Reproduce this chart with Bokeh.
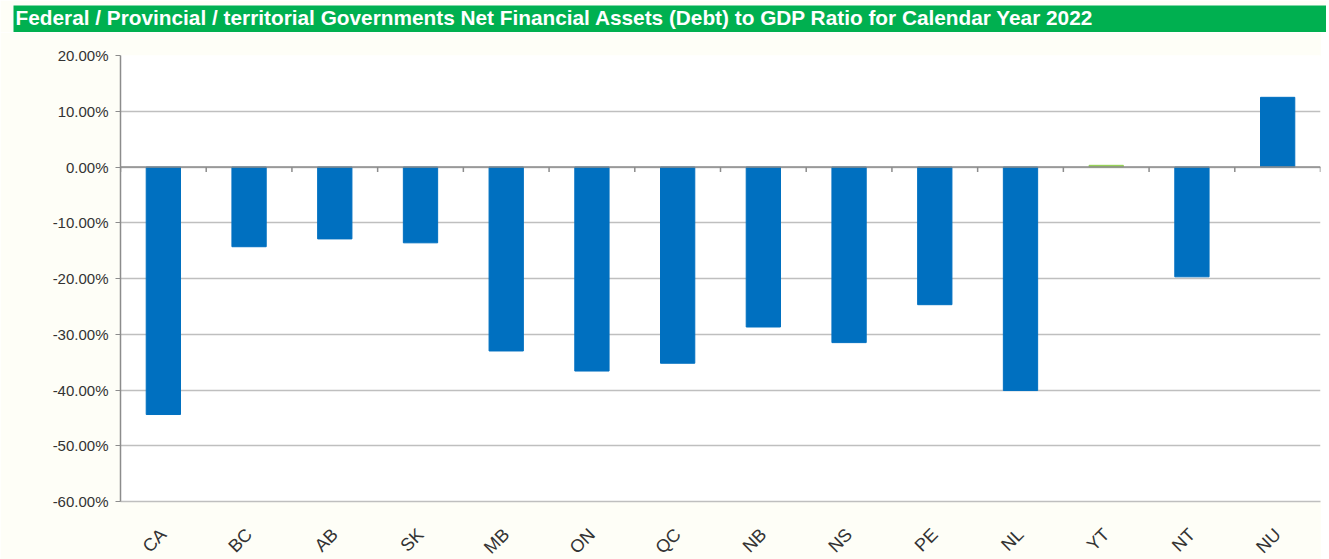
from bokeh.plotting import figure
from bokeh.models import Range1d, FixedTicker, PrintfTickFormatter, ColumnDataSource, Label
from bokeh.embed import file_html
from bokeh.resources import INLINE
import math

title_text = "Federal / Provincial / territorial Governments Net Financial Assets (Debt) to GDP Ratio for Calendar Year 2022"
regions = ["CA", "BC", "AB", "SK", "MB", "ON", "QC", "NB", "NS", "PE", "NL", "YT", "NT", "NU"]
ratio_pct = [-44.4, -14.3, -12.9, -13.6, -33.0, -36.6, -35.2, -28.7, -31.5, -24.7, -40.1, 0.3, -19.7, 12.5]
bar_colors = ["#0070C0"] * 11 + ["#92D050"] + ["#0070C0"] * 2
y_ticks = [-60, -50, -40, -30, -20, -10, 0, 10, 20]

FONT = "Liberation Sans"
CREAM = "#FEFEF7"

# Banner
banner = figure(width=1326, height=32, x_range=(0, 1), y_range=(0, 1),
                output_backend="svg", toolbar_location=None,
                min_border_left=13, min_border_right=0,
                min_border_top=5, min_border_bottom=0)
banner.background_fill_color = "#00B050"
banner.border_fill_color = CREAM
banner.outline_line_color = None
banner.xaxis.visible = False
banner.yaxis.visible = False
banner.grid.visible = False
banner.add_layout(Label(x=2, y=15, x_units="screen", y_units="screen", text=title_text,
                        text_color="white", text_font=FONT, text_font_style="bold",
                        text_font_size="20.8px", text_baseline="middle", text_align="left"))

n = len(regions)
idx = list(range(n))
src = ColumnDataSource(dict(x=idx, top=ratio_pct, color=bar_colors))

p = figure(frame_width=1200, frame_height=446, x_range=Range1d(-0.5, n - 0.5),
           y_range=Range1d(y_ticks[0], y_ticks[-1]),
           output_backend="svg", toolbar_location=None,
           min_border_left=120, min_border_right=1, min_border_top=23, min_border_bottom=10)
p.background_fill_color = "white"
p.border_fill_color = CREAM
p.outline_line_color = None

p.vbar(x="x", top="top", bottom=0, width=0.4, color="color", source=src)

# zero axis line with tick marks between categories
bounds = [i - 0.5 for i in range(n + 1)]
p.segment(x0=[-0.5], x1=[n - 0.5], y0=[0], y1=[0], line_color="#8C8C8C", line_width=1.5)
p.segment(x0=bounds, x1=bounds, y0=[0] * len(bounds), y1=[-0.9] * len(bounds),
          line_color="#8C8C8C", line_width=1.5)

# y axis
p.yaxis.ticker = FixedTicker(ticks=y_ticks)
p.yaxis.formatter = PrintfTickFormatter(format="%.2f%%")
p.yaxis.axis_line_color = "#8C8C8C"
p.yaxis.axis_line_width = 1.5
p.yaxis.major_tick_line_color = "#8C8C8C"
p.yaxis.major_tick_in = 0
p.yaxis.major_tick_out = 5
p.yaxis.minor_tick_line_color = None
p.yaxis.major_label_text_font = FONT
p.yaxis.major_label_text_font_size = "15px"
p.yaxis.major_label_text_color = "#333333"
p.yaxis.major_label_standoff = 7

# x axis (labels only, line at bottom of plot area)
p.xaxis.ticker = FixedTicker(ticks=idx)
p.xaxis.major_label_overrides = {i: r for i, r in enumerate(regions)}
p.xaxis.axis_line_color = "#BFBFBF"
p.xaxis.axis_line_width = 1.5
p.xaxis.major_tick_line_color = None
p.xaxis.major_tick_in = 0
p.xaxis.major_tick_out = 0
p.xaxis.minor_tick_line_color = None
p.xaxis.minor_tick_out = 0
p.xaxis.major_label_orientation = math.pi / 4
p.xaxis.major_label_text_font = FONT
p.xaxis.major_label_text_font_size = "18px"
p.xaxis.major_label_text_line_height = 0.6
p.xaxis.major_label_text_color = "#333333"
p.xaxis.major_label_standoff = 30

p.xgrid.visible = False
p.ygrid.ticker = FixedTicker(ticks=y_ticks)
p.ygrid.grid_line_color = "#BFBFBF"
p.ygrid.grid_line_width = 1.5

open("out.html", "w").write(file_html([banner, p], INLINE))
